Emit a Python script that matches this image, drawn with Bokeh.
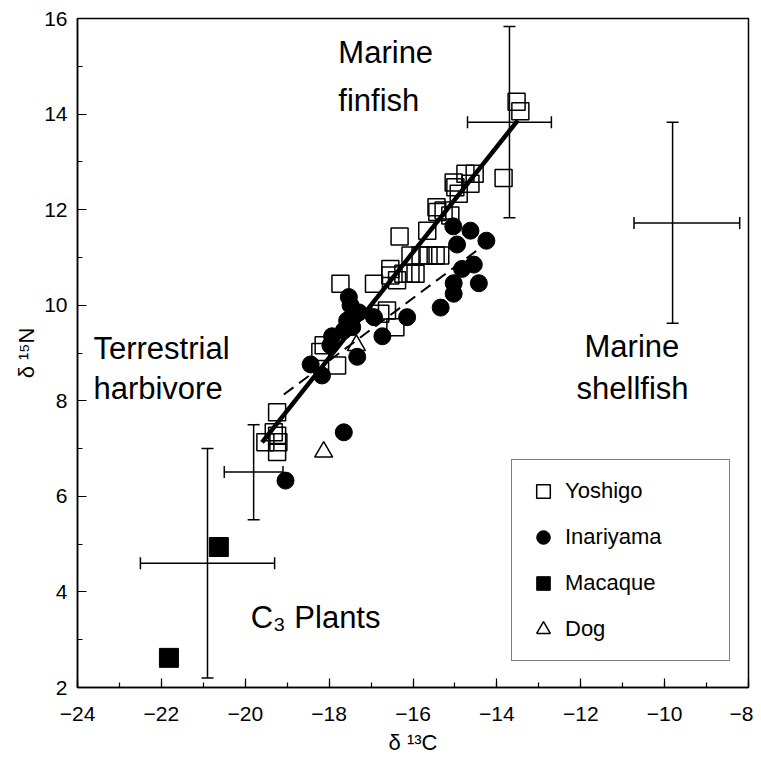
from bokeh.plotting import figure
from bokeh.models import (Range1d, SingleIntervalTicker, Whisker, TeeHead,
                          ColumnDataSource, Legend, LegendItem)
from bokeh.core.properties import value
from bokeh.embed import file_html
from bokeh.resources import INLINE

# ---------------- data ----------------
yoshigo_x = [-13.53, -13.44, -13.84, -14.75, -14.53, -14.63, -15.03, -14.99, -14.91,
             -15.44, -15.42, -15.27, -15.11, -15.66, -16.32, -16.06, -15.82, -15.63,
             -15.46, -15.35, -16.23, -16.06, -15.94, -16.54, -16.54, -16.38, -17.73,
             -16.93, -16.78, -16.62, -16.42, -18.13, -18.21, -17.81, -19.24, -19.32,
             -19.52, -19.24, -19.24, -19.21]
yoshigo_y = [14.26, 14.06, 12.66, 12.75, 12.75, 12.54, 12.57, 12.47, 12.33,
             12.05, 11.95, 11.98, 11.88, 11.56, 11.44, 11.04, 11.04, 11.04,
             11.04, 11.04, 10.66, 10.66, 10.66, 10.76, 10.62, 10.52, 10.45,
             10.45, 9.82, 9.89, 9.54, 9.16, 9.02, 8.74, 7.76, 7.34,
             7.13, 7.27, 6.93, 7.13]

inariyama_x = [-15.04, -14.63, -14.25, -14.95, -14.83, -14.55, -15.03, -14.43, -15.03,
               -15.34, -16.14, -17.53, -17.49, -17.29, -16.93, -17.57, -17.45, -16.73,
               -17.93, -17.97, -18.44, -18.17, -17.33, -17.65, -17.65, -19.04]
inariyama_y = [11.65, 11.56, 11.35, 11.27, 10.76, 10.85, 10.46, 10.46, 10.24,
               9.95, 9.75, 10.17, 10.00, 9.85, 9.75, 9.68, 9.54, 9.35,
               9.35, 9.16, 8.76, 8.53, 8.92, 9.47, 7.34, 6.33]

macaque_x = [-20.63, -21.82]
macaque_y = [4.94, 2.62]

dog_x = [-18.13, -17.35]
dog_y = [6.93, 9.16]

# regression lines (end points)
yoshigo_fit_x = [-19.60, -13.50]
yoshigo_fit_y = [7.13, 13.87]
inariyama_fit_x = [-19.08, -14.47]
inariyama_fit_y = [8.13, 11.15]

# food-source means and ranges
src_name = ["Marine finfish", "Marine shellfish", "Terrestrial harbivore", "C3 Plants"]
src_x = [-13.70, -9.81, -19.80, -20.90]
src_y = [13.83, 11.72, 6.51, 4.60]
src_x_lo = [-14.70, -10.73, -20.50, -22.50]
src_x_hi = [-12.70, -8.21, -19.10, -19.30]
src_y_lo = [11.83, 9.62, 5.51, 2.20]
src_y_hi = [15.83, 13.83, 7.50, 7.00]

# region labels
label_text = ["Marine", "finfish", "Terrestrial", "harbivore", "Marine", "shellfish", "C₃ Plants"]
label_x = [-17.78, -17.78, -23.62, -23.62, -11.91, -12.10, -19.87]
label_y = [15.29, 14.28, 9.09, 8.26, 9.14, 8.26, 3.47]

legend_labels = ["Yoshigo", "Inariyama", "Macaque", "Dog"]

# ---------------- figure ----------------
SANS = "'Liberation Sans', Arial, sans-serif"

p = figure(frame_width=671, frame_height=669,
           x_range=Range1d(-24, -8), y_range=Range1d(2, 16),
           output_backend="svg", toolbar_location=None,
           min_border_left=77, min_border_right=5, min_border_top=18, min_border_bottom=55)
p.grid.visible = False
p.outline_line_color = "black"
p.outline_line_width = 1.5
p.background_fill_color = "white"
p.border_fill_color = "white"

for ax in (p.xaxis[0], p.yaxis[0]):
    ax.ticker = SingleIntervalTicker(interval=2, num_minor_ticks=2)
    ax.major_tick_in = 9
    ax.major_tick_out = 0
    ax.minor_tick_in = 5
    ax.minor_tick_out = 0
    ax.axis_line_width = 1.5
    ax.major_tick_line_width = 1.2
    ax.minor_tick_line_width = 1.2
    ax.major_label_text_font = SANS
    ax.major_label_text_font_size = "21px"
    ax.major_label_text_color = "black"
    ax.axis_label_text_font = SANS
    ax.axis_label_text_font_size = "22px"
    ax.axis_label_text_font_style = "normal"
    ax.axis_label_text_color = "black"

p.xaxis.axis_label = "δ ¹³C"
p.yaxis.axis_label = "δ ¹⁵N"
p.xaxis.major_label_standoff = 19
p.xaxis.axis_label_standoff = 6
p.yaxis.major_label_standoff = 10
p.yaxis.axis_label_standoff = 2
p.xaxis.major_label_overrides = {v: str(v).replace("-", "−") for v in range(-24, -7, 2)}

# error bars of food sources
es = ColumnDataSource(dict(x=src_x, y=src_y, xlo=src_x_lo, xhi=src_x_hi,
                           ylo=src_y_lo, yhi=src_y_hi))
vw = Whisker(source=es, base="x", lower="ylo", upper="yhi", dimension="height",
             line_width=1.5, line_color="black",
             upper_head=TeeHead(size=12, line_width=1.5, line_color="black"),
             lower_head=TeeHead(size=12, line_width=1.5, line_color="black"))
hw = Whisker(source=es, base="y", lower="xlo", upper="xhi", dimension="width",
             line_width=1.5, line_color="black",
             upper_head=TeeHead(size=12, line_width=1.5, line_color="black"),
             lower_head=TeeHead(size=12, line_width=1.5, line_color="black"))
p.add_layout(vw)
p.add_layout(hw)

# points
r_yos = p.scatter(yoshigo_x, yoshigo_y, marker="square", size=17,
                  fill_alpha=0, line_color="black", line_width=1.5)
r_dog = p.scatter(dog_x, dog_y, marker="triangle", size=18,
                  fill_color="white", line_color="black", line_width=1.5)
r_ina = p.scatter(inariyama_x, inariyama_y, marker="circle", size=17,
                  fill_color="black", line_color="black")
r_mac = p.scatter(macaque_x, macaque_y, marker="square", size=19,
                  fill_color="black", line_color="black")

# regression lines
p.line(yoshigo_fit_x, yoshigo_fit_y, line_color="black", line_width=4.5)
p.line(inariyama_fit_x, inariyama_fit_y, line_color="black", line_width=2,
       line_dash="12 7")

# region labels
p.text(x=label_x, y=label_y, text=label_text, text_font=value(SANS),
       text_font_size=value("31px"), text_baseline="middle", text_align="left",
       text_color="black")

legend = Legend(items=[LegendItem(label=legend_labels[0], renderers=[r_yos]),
                       LegendItem(label=legend_labels[1], renderers=[r_ina]),
                       LegendItem(label=legend_labels[2], renderers=[r_mac]),
                       LegendItem(label=legend_labels[3], renderers=[r_dog])],
                location=(434, 26), margin=0, border_line_color="black",
                border_line_width=1.5, glyph_width=34, glyph_height=34,
                padding=14, spacing=12, label_standoff=5, label_width=150,
                label_text_font=SANS, label_text_font_size="22px",
                label_text_color="black",
                background_fill_color="white", background_fill_alpha=1)
p.add_layout(legend, "center")

open("out.html", "w").write(file_html(p, INLINE))
